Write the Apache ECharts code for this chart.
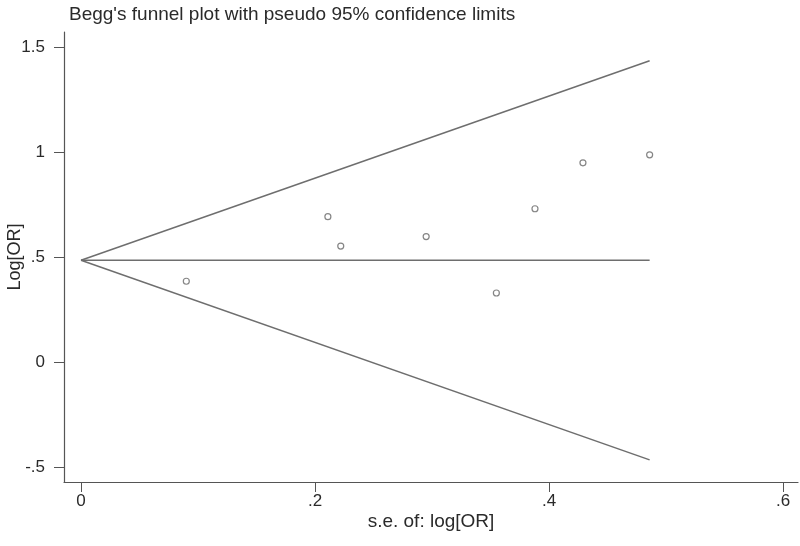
<!DOCTYPE html>
<html>
<head>
<meta charset="utf-8">
<script src="https://cdn.jsdelivr.net/npm/echarts@6/dist/echarts.min.js"></script>
<style>html,body{margin:0;padding:0;background:#fff}#c{width:800px;height:546px}</style>
</head>
<body>
<div id="c"></div>
<script>
// Study points: standard error of log[OR] and log[OR]
const seValues = [0.090, 0.211, 0.222, 0.295, 0.355, 0.388, 0.429, 0.486];
const logOR    = [0.386, 0.694, 0.554, 0.599, 0.330, 0.732, 0.951, 0.989];
// Funnel (pseudo 95% limits)
const funnelSE    = [0, 0.486];
const funnelUpper = [0.486, 1.438];
const funnelLower = [0.486, -0.466];
const funnelMid   = [0.486, 0.486];
// Ticks
const xTicks = [0, 0.2, 0.4, 0.6];
const yTicks = [-0.5, 0, 0.5, 1, 1.5];
const titleText = "Begg's funnel plot with pseudo 95% confidence limits";

function stataFmt(v) {
  let s = String(Math.round(v * 100) / 100);
  return s.replace(/^0\./, '.').replace(/^-0\./, '-.');
}
const lineColor = '#6e6e6e';
const axisColor = '#555';
const font = 'Liberation Sans, Arial, sans-serif';

const chart = echarts.init(document.getElementById('c'));
function pairs(xs, ys) { return xs.map((x, i) => [x, ys[i]]); }
chart.setOption({
  animation: false,
  backgroundColor: '#fff',
  title: {
    text: titleText, left: 64, top: 0,
    textStyle: { fontFamily: font, fontSize: 19, fontWeight: 'normal', color: '#2a2a2a' }
  },
  grid: { left: 64, top: 32, right: 2, bottom: 64, containLabel: false, outerBoundsMode: 'none' },
  xAxis: {
    type: 'value', min: -0.01453, max: 0.6128,
    name: 's.e. of: log[OR]', nameLocation: 'middle', nameGap: 30, nameMoveOverlap: false,
    nameTextStyle: { fontFamily: font, fontSize: 19, color: '#2a2a2a' },
    axisLine: { show: true, onZero: false, lineStyle: { color: axisColor, width: 1.2 } },
    axisTick: { show: true, length: 10, customValues: xTicks, lineStyle: { color: axisColor } },
    axisLabel: { customValues: xTicks, formatter: stataFmt, fontFamily: font, fontSize: 17, color: '#2a2a2a', margin: 11 },
    splitLine: { show: false }
  },
  yAxis: {
    type: 'value', min: -0.5715, max: 1.575,
    name: 'Log[OR]', nameLocation: 'middle', nameGap: 40, nameMoveOverlap: false,
    nameTextStyle: { fontFamily: font, fontSize: 18, color: '#2a2a2a' },
    axisLine: { show: true, onZero: false, lineStyle: { color: axisColor, width: 1.2 } },
    axisTick: { show: true, length: 10, customValues: yTicks, lineStyle: { color: axisColor } },
    axisLabel: { customValues: yTicks, formatter: stataFmt, fontFamily: font, fontSize: 17, color: '#2a2a2a', margin: 19 },
    splitLine: { show: false }
  },
  series: [
    { type: 'line', data: pairs(funnelSE, funnelUpper), symbol: 'none', lineStyle: { color: lineColor, width: 1.5 } },
    { type: 'line', data: pairs(funnelSE, funnelMid), symbol: 'none', lineStyle: { color: lineColor, width: 1.5 } },
    { type: 'line', data: pairs(funnelSE, funnelLower), symbol: 'none', lineStyle: { color: lineColor, width: 1.5 } },
    { type: 'scatter', data: pairs(seValues, logOR), symbol: 'circle', symbolSize: 6,
      itemStyle: { color: '#fff', borderColor: '#666', borderWidth: 1.2 } }
  ]
});
</script>
</body>
</html>
